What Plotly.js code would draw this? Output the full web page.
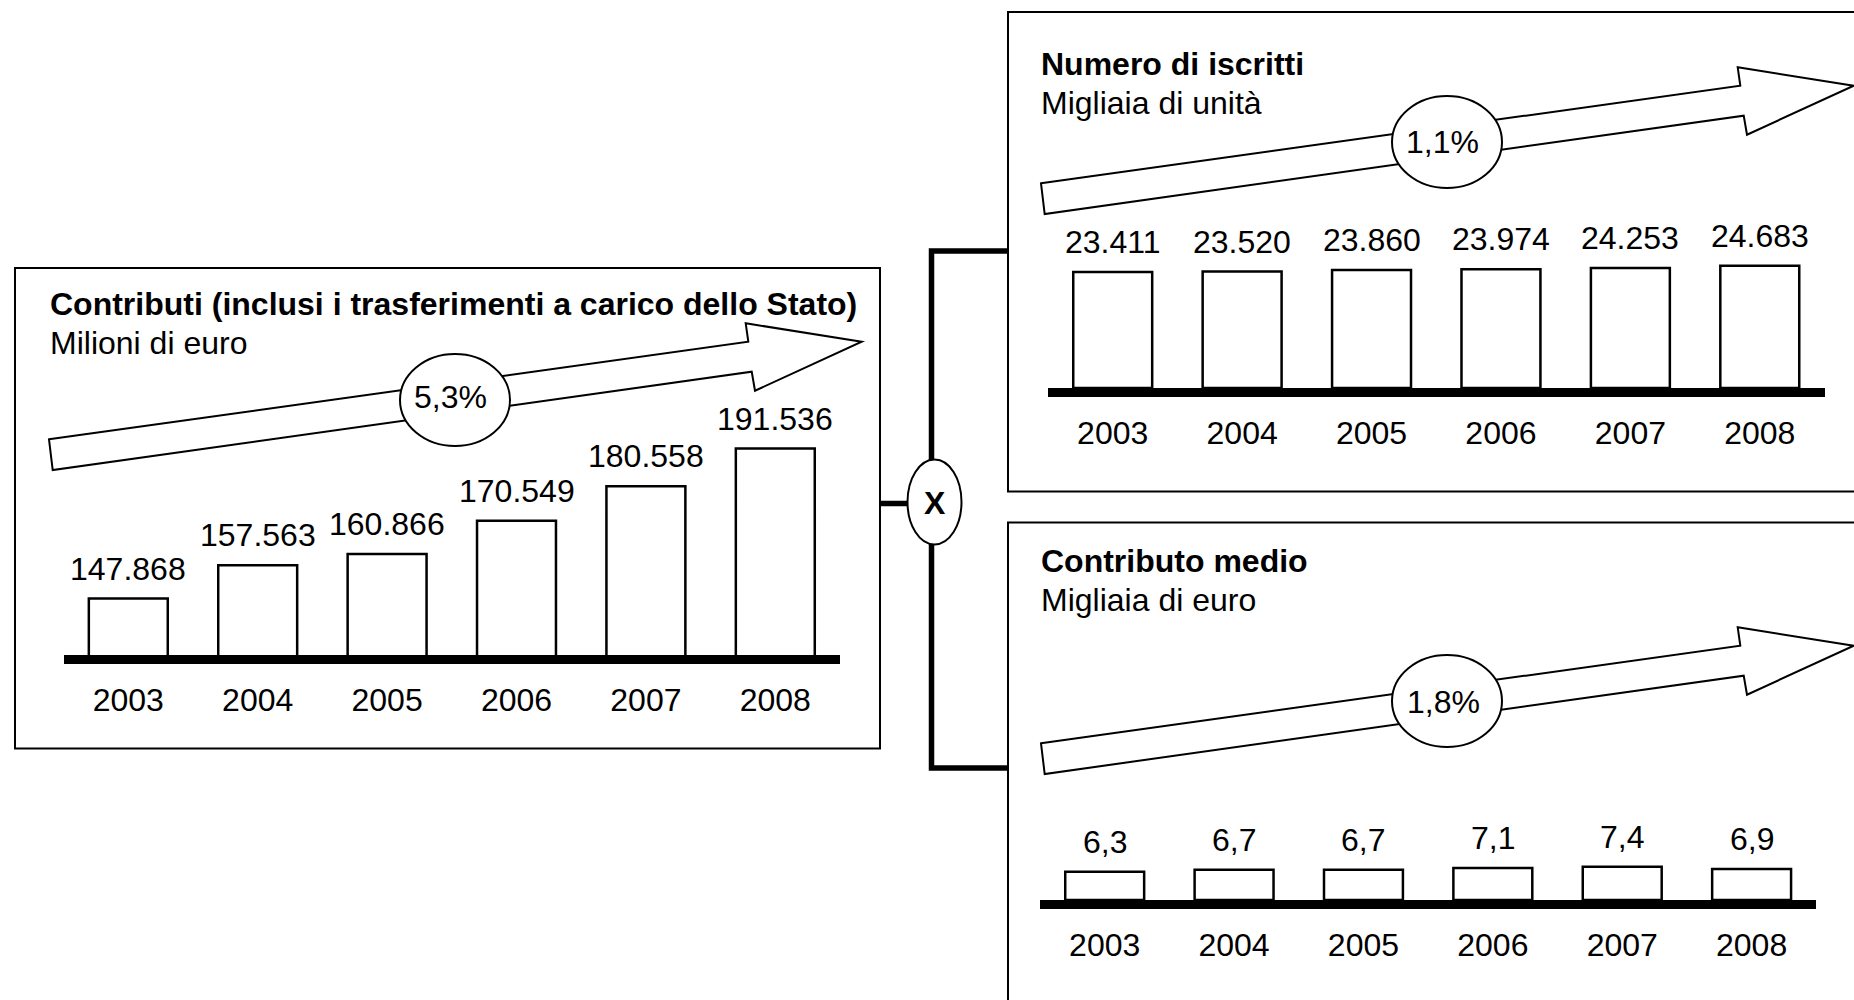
<!DOCTYPE html>
<html>
<head>
<meta charset="utf-8">
<script src="https://cdn.plot.ly/plotly-3.0.1.min.js"></script>
<style>html,body{margin:0;padding:0;background:#fff;}#chart{width:1854px;height:1000px;}</style>
</head>
<body>
<div id="chart"></div>
<script>
// ---- data ----
const years = ['2003', '2004', '2005', '2006', '2007', '2008'];
const contributi = [147868, 157563, 160866, 170549, 180558, 191536];   // milioni di euro
const iscritti = [23411, 23520, 23860, 23974, 24253, 24683];           // migliaia di unità
const contributoMedio = [6.3, 6.7, 6.7, 7.1, 7.4, 6.9];                // migliaia di euro
const growthRates = ['5,3%', '1,1%', '1,8%'];
const titles = ['Contributi (inclusi i trasferimenti a carico dello Stato)', 'Numero di iscritti', 'Contributo medio'];
const subtitles = ['Milioni di euro', 'Migliaia di unità', 'Migliaia di euro'];
const operatorLabel = 'X';

// ---- helpers ----
const W = 1854, H = 1000;
const px = x => x / W;
const py = y => 1 - y / H;
const FONT = '"Liberation Sans", Arial, Helvetica, sans-serif';

function fmtIt(v, dec) {
  const s = v.toFixed(dec);
  let parts = s.split('.');
  let i = parts[0].replace(/\B(?=(\d{3})+(?!\d))/g, '.');
  return parts.length > 1 ? i + ',' + parts[1] : i;
}

const barStyle = {color: '#ffffff', line: {color: '#000000', width: 2.5}};
const traces = [
  {type: 'bar', x: years, y: contributi, xaxis: 'x', yaxis: 'y', marker: barStyle, width: 0.61, hoverinfo: 'skip'},
  {type: 'bar', x: years, y: iscritti, xaxis: 'x2', yaxis: 'y2', marker: barStyle, width: 0.61, hoverinfo: 'skip'},
  {type: 'bar', x: years, y: contributoMedio, xaxis: 'x3', yaxis: 'y3', marker: barStyle, width: 0.61, hoverinfo: 'skip'}
];

function xAxis(x0, x1, anchor) {
  return {
    domain: [px(x0), px(x1)], anchor: anchor, type: 'category', range: [-0.5, 5.5],
    showline: true, linewidth: 9, linecolor: '#000000', showgrid: false, zeroline: false,
    ticks: '', ticklabelstandoff: 9, tickfont: {family: FONT, size: 32, color: '#000000'},
    fixedrange: true
  };
}
function yAxis(yBottom, yTop, range, anchor) {
  return {domain: [py(yBottom), py(yTop)], range: range, anchor: anchor, visible: false, fixedrange: true};
}

// ---- decorations (paper coordinates) ----
const arrowPts = [[49, 439.3], [748.3, 341.7], [745.7, 323.3], [861.7, 341.7], [755, 390.7], [751.7, 371.7], [52.7, 470]];
function arrowPath(dx, dy) {
  return arrowPts.map((p, i) => (i ? 'L' : 'M') + px(p[0] + dx).toFixed(5) + ',' + py(p[1] + dy).toFixed(5)).join(' ') + ' Z';
}
function linePath(pts) {
  return pts.map((p, i) => (i ? 'L' : 'M') + px(p[0]).toFixed(5) + ',' + py(p[1]).toFixed(5)).join(' ');
}
function ellipse(cx, cy, rx, ry) {
  return {type: 'circle', xref: 'paper', yref: 'paper', x0: px(cx - rx), x1: px(cx + rx), y0: py(cy + ry), y1: py(cy - ry),
    fillcolor: '#ffffff', line: {color: '#000000', width: 2}, layer: 'above'};
}
function rect(x0, y0, x1, y1) {
  return {type: 'rect', xref: 'paper', yref: 'paper', x0: px(x0), x1: px(x1), y0: py(y1), y1: py(y0),
    line: {color: '#000000', width: 2}, fillcolor: 'rgba(0,0,0,0)', layer: 'below'};
}

const panelShift = [[0, 0], [992, -256], [992, 304]];
const ellipseCenters = [[455, 400], [1447, 142], [1447, 701]];
const pctCenters = [[450, 397], [1442, 142.5], [1443, 702]];

const shapes = [
  rect(15, 268, 880, 748.5),
  rect(1008, 12, 1870, 491.5),
  rect(1008, 522.5, 1870, 1015),
  {type: 'path', xref: 'paper', yref: 'paper', path: linePath([[880, 503.5], [910, 503.5]]), line: {color: '#000', width: 5.5}, layer: 'above'},
  {type: 'path', xref: 'paper', yref: 'paper', path: linePath([[1008, 251], [931.5, 251], [931.5, 470]]), line: {color: '#000', width: 5.5}, layer: 'above'},
  {type: 'path', xref: 'paper', yref: 'paper', path: linePath([[931.5, 535], [931.5, 768], [1008, 768]]), line: {color: '#000', width: 5.5}, layer: 'above'}
];
panelShift.forEach(s => shapes.push({type: 'path', xref: 'paper', yref: 'paper', path: arrowPath(s[0], s[1]),
  fillcolor: '#ffffff', line: {color: '#000000', width: 2}, layer: 'above'}));
ellipseCenters.forEach(c => shapes.push(ellipse(c[0], c[1], 55, 46)));
shapes.push(ellipse(934.5, 502, 27, 42.5));

const annotations = [];
const txtFont = {family: FONT, size: 32, color: '#000000'};
const titlePos = [[47.5, 304, 343], [1038.5, 64, 103], [1038.5, 560.5, 599.5]];
titles.forEach((t, i) => {
  annotations.push({xref: 'paper', yref: 'paper', x: px(titlePos[i][0]), y: py(titlePos[i][1]), xanchor: 'left', yanchor: 'middle',
    text: '<b>' + t + '</b>', showarrow: false, font: txtFont});
  annotations.push({xref: 'paper', yref: 'paper', x: px(titlePos[i][0]), y: py(titlePos[i][2]), xanchor: 'left', yanchor: 'middle',
    text: subtitles[i], showarrow: false, font: txtFont});
});
growthRates.forEach((g, i) => annotations.push({xref: 'paper', yref: 'paper', x: px(pctCenters[i][0]), y: py(pctCenters[i][1]),
  xanchor: 'center', yanchor: 'middle', text: g, showarrow: false, font: txtFont}));
annotations.push({xref: 'paper', yref: 'paper', x: px(934.5), y: py(503), xanchor: 'center', yanchor: 'middle',
  text: '<b>' + operatorLabel + '</b>', showarrow: false, font: txtFont});

// value labels above each bar (category axes take the category index)
const series = [[contributi, 0, 'x', 'y'], [iscritti, 0, 'x2', 'y2'], [contributoMedio, 1, 'x3', 'y3']];
series.forEach(s => {
  years.forEach((yr, i) => annotations.push({xref: s[2], yref: s[3], x: i, y: s[0][i], text: fmtIt(s[0][i], s[1]),
    showarrow: false, xanchor: 'center', yanchor: 'middle', yshift: 30, font: txtFont}));
});

const layout = {
  width: W, height: H, autosize: false,
  margin: {l: 0, r: 0, t: 0, b: 0, pad: 0},
  paper_bgcolor: '#ffffff', plot_bgcolor: 'rgba(0,0,0,0)',
  showlegend: false, font: {family: FONT, size: 32, color: '#000000'},
  xaxis: xAxis(63.6, 840, 'y'),
  yaxis: yAxis(655, 380, [131450, 211508], 'x'),
  xaxis2: xAxis(1048, 1824.5, 'y2'),
  yaxis2: yAxis(388, 200, [0, 37980], 'x2'),
  xaxis3: xAxis(1040, 1816.3, 'y3'),
  yaxis3: yAxis(900, 780, [0, 26.667], 'x3'),
  shapes: shapes,
  annotations: annotations
};

Plotly.newPlot('chart', traces, layout, {staticPlot: true, displayModeBar: false});
</script>
</body>
</html>
